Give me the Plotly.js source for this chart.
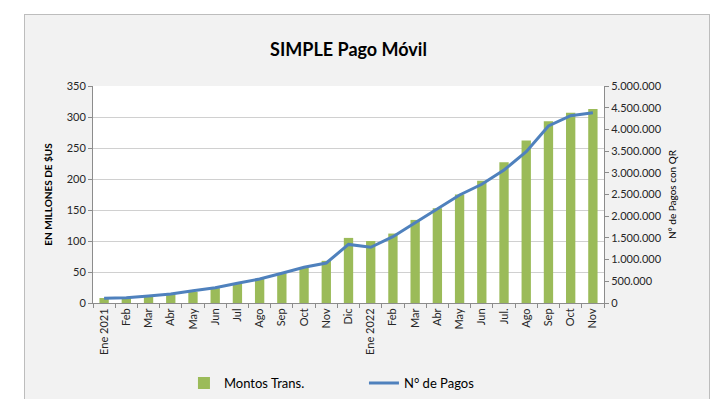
<!DOCTYPE html>
<html><head><meta charset="utf-8">
<script src="https://cdn.plot.ly/plotly-3.0.1.min.js"></script>
<style>
html,body{margin:0;padding:0;background:#fff;width:720px;height:399px;overflow:hidden;}
#box{position:absolute;left:24px;top:14px;width:684px;height:400px;background:#f2f2f2;border:1px solid #bdbdbd;}
#chart{position:absolute;left:0;top:0;width:720px;height:399px;}
</style></head>
<body>
<div id="box"></div>
<div id="chart"></div>
<script>
const categories = ["2021-01","2021-02","2021-03","2021-04","2021-05","2021-06","2021-07","2021-08","2021-09","2021-10","2021-11","2021-12",
  "2022-01","2022-02","2022-03","2022-04","2022-05","2022-06","2022-07","2022-08","2022-09","2022-10","2022-11"];
const tickLabels = ["Ene 2021","Feb","Mar","Abr","May","Jun","Jul","Ago","Sep","Oct","Nov","Dic",
  "Ene 2022","Feb","Mar","Abr","May","Jun","Jul.","Ago","Sep","Oct","Nov"];
const montos = [8,8,10,14,18,24,32,39,48,58,68,105,100,112,134,153,175,197,227,262,293,307,313];
const pagos = [110000,120000,160000,207000,284000,353000,453000,553000,684000,822000,922000,1350000,
  1283000,1528000,1850000,2159000,2488000,2735000,3064000,3486000,4078000,4316000,4385000];

const F = "Lato, 'Open Sans', sans-serif";
const data = [
  {type:'bar', name:'Montos Trans.', x:categories, y:montos, marker:{color:'#9bbb59'}, yaxis:'y'},
  {type:'scatter', mode:'lines', name:'N° de Pagos', x:categories, y:pagos, yaxis:'y2',
   line:{color:'#4f81bd', width:3}}
];
const layout = {
  width:720, height:399,
  paper_bgcolor:'rgba(0,0,0,0)', plot_bgcolor:'#ffffff',
  margin:{l:93, r:116, t:86, b:96, autoexpand:false},
  separators:',.',
  font:{family:F, size:10, color:'#262626'},
  title:{text:'<b>SIMPLE Pago Móvil</b>', font:{family:F, size:18, color:'#000'}, x:0.5, xref:'paper', xanchor:'center', y:0.875, yref:'container', yanchor:'middle'},
  bargap:0.58,
  showlegend:true,
  legend:{orientation:'h', x:0.178, xanchor:'left', y:0.04, yref:'container', yanchor:'middle', font:{family:F, size:13, color:'#000'}, entrywidth:135, bgcolor:'rgba(0,0,0,0)'},
  xaxis:{type:'category', tickvals:categories, ticktext:tickLabels, tickangle:-90, tickson:'boundaries',
    ticks:'outside', ticklen:4, tickcolor:'#8c8c8c', showline:true, linecolor:'#8c8c8c', showgrid:false,
    tickfont:{family:F, size:11, color:'#262626'}},
  yaxis:{range:[0,350], dtick:50, showgrid:true, gridcolor:'#d0d0d0', showline:true, linecolor:'#8c8c8c',
    ticks:'outside', ticklen:4, tickcolor:'#8c8c8c', zeroline:false,
    title:{text:'<b>EN MILLONES DE $US</b>', font:{family:F, size:10, color:'#000'}, standoff:12},
    tickfont:{family:F, size:11, color:'#262626'}},
  yaxis2:{overlaying:'y', side:'right', range:[0,5000000], dtick:500000, tickformat:',d', showgrid:false,
    showline:true, linecolor:'#8c8c8c', ticks:'outside', ticklen:4, tickcolor:'#8c8c8c', zeroline:false,
    title:{text:'N° de Pagos con QR', font:{family:F, size:10, color:'#000'}, standoff:8},
    tickfont:{family:F, size:11, color:'#262626'}}
};
Plotly.newPlot('chart', data, layout, {staticPlot:true, displayModeBar:false});
</script>
</body></html>
